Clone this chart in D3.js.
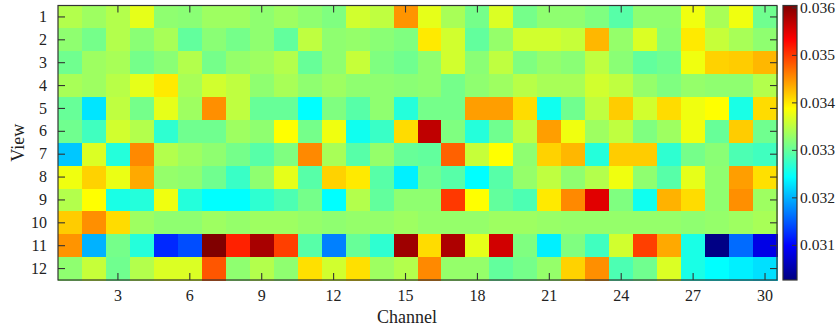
<!DOCTYPE html>
<html><head><meta charset="utf-8">
<script src="https://cdn.jsdelivr.net/npm/d3@7"></script>
<style>body{margin:0;background:#fff}svg text{font-family:"Liberation Serif","Times New Roman",serif;fill:#222}</style>
</head><body><svg id="c" width="837" height="328"></svg>
<script>
const channels = [1,2,3,4,5,6,7,8,9,10,11,12,13,14,15,16,17,18,19,20,21,22,23,24,25,26,27,28,29,30];
const views = [1,2,3,4,5,6,7,8,9,10,11,12];
const xTickValues = [3,6,9,12,15,18,21,24,27,30];
const colorTicks = [0.031,0.032,0.033,0.034,0.035,0.036];
const colorDomain = [0.03026, 0.03604];
const values = [
 [0.03344,0.03332,0.03344,0.03373,0.03324,0.03321,0.03332,0.03332,0.03324,0.03332,0.03324,0.03315,0.03361,0.03351,0.03448,0.03373,0.03338,0.03309,0.03367,0.03309,0.03324,0.03324,0.03315,0.03292,0.03324,0.03324,0.03379,0.03338,0.03379,0.03306],
 [0.03324,0.03309,0.03344,0.03321,0.03338,0.03298,0.03321,0.03309,0.03324,0.03298,0.03351,0.03324,0.03327,0.03321,0.03315,0.03399,0.03361,0.03298,0.03327,0.03361,0.03361,0.03355,0.03428,0.03327,0.03367,0.03321,0.03399,0.03355,0.03338,0.03324],
 [0.03306,0.03332,0.03338,0.03309,0.03321,0.03344,0.03309,0.03327,0.03332,0.03344,0.03301,0.03324,0.03355,0.03315,0.03306,0.03324,0.03361,0.03321,0.03351,0.03315,0.03327,0.03321,0.03351,0.03321,0.03298,0.03306,0.03379,0.03413,0.03416,0.03428],
 [0.03338,0.03332,0.03347,0.03373,0.03399,0.03338,0.03361,0.03351,0.03324,0.03338,0.03324,0.03332,0.03324,0.03324,0.03321,0.03324,0.03309,0.03324,0.03332,0.03347,0.03338,0.03338,0.03361,0.03351,0.03327,0.03315,0.03327,0.03324,0.03324,0.03344],
 [0.03301,0.03228,0.03351,0.03309,0.03373,0.03332,0.03451,0.03351,0.03301,0.03301,0.03243,0.03315,0.03292,0.03324,0.03263,0.03309,0.03309,0.03442,0.03442,0.03407,0.03251,0.03306,0.03351,0.03416,0.03361,0.03407,0.03379,0.03387,0.03257,0.03407],
 [0.03306,0.03279,0.03361,0.03344,0.03269,0.03306,0.03306,0.03332,0.03324,0.03387,0.03309,0.03379,0.03251,0.03275,0.03407,0.03568,0.03315,0.03263,0.03306,0.03351,0.03442,0.03379,0.03332,0.03351,0.03315,0.03332,0.03379,0.03301,0.03416,0.03306],
 [0.03211,0.03367,0.03263,0.03454,0.03344,0.03332,0.03324,0.03309,0.03292,0.03315,0.03454,0.03338,0.03292,0.03327,0.03301,0.03298,0.03477,0.03355,0.03387,0.03324,0.03413,0.03428,0.03263,0.03416,0.03416,0.03269,0.03309,0.03321,0.03286,0.03279],
 [0.03379,0.03413,0.03376,0.03436,0.03327,0.03324,0.03306,0.03275,0.03324,0.03373,0.03292,0.03413,0.03399,0.03292,0.03234,0.03306,0.03292,0.03243,0.03292,0.03327,0.03351,0.03324,0.03344,0.03379,0.03324,0.03292,0.03373,0.03324,0.03442,0.03405],
 [0.03344,0.03387,0.03257,0.03263,0.03379,0.03263,0.03243,0.03243,0.03269,0.03286,0.03309,0.03243,0.03344,0.03298,0.03324,0.03324,0.03500,0.03387,0.03298,0.03286,0.03399,0.03454,0.03549,0.03315,0.03251,0.03431,0.03407,0.03324,0.03451,0.03332],
 [0.03416,0.03451,0.03407,0.03332,0.03324,0.03324,0.03332,0.03327,0.03332,0.03332,0.03327,0.03324,0.03327,0.03327,0.03332,0.03327,0.03327,0.03327,0.03332,0.03332,0.03329,0.03327,0.03327,0.03327,0.03327,0.03327,0.03324,0.03327,0.03332,0.03338],
 [0.03448,0.03199,0.03309,0.03263,0.03121,0.03142,0.03604,0.03513,0.03581,0.03496,0.03292,0.03171,0.03301,0.03269,0.03587,0.03407,0.03578,0.03373,0.03558,0.03315,0.03234,0.03315,0.03279,0.03361,0.03496,0.03436,0.03257,0.03029,0.03159,0.03084],
 [0.03324,0.03355,0.03306,0.03344,0.03367,0.03367,0.03483,0.03324,0.03344,0.03324,0.03405,0.03361,0.03405,0.03332,0.03344,0.03454,0.03327,0.03327,0.03298,0.03309,0.03327,0.03413,0.03451,0.03286,0.03306,0.03367,0.03257,0.03243,0.03234,0.03225]
];

function jet(t){
  t = Math.max(0, Math.min(1, t));
  const c = v => Math.max(0, Math.min(1, v));
  return d3.rgb(255*c(1.5-Math.abs(4*t-3)), 255*c(1.5-Math.abs(4*t-2)), 255*c(1.5-Math.abs(4*t-1))).formatHex();
}

const svg = d3.select("#c");
const L = 58, R = 777, T = 5.5, B = 280;
const x = d3.scaleBand().domain(channels).range([L, R]);
const y = d3.scaleBand().domain(views).range([T, B]);
const color = d3.scaleSequential(jet).domain(colorDomain);

const cells = [];
values.forEach((row, i) => row.forEach((v, j) => cells.push({view: views[i], ch: channels[j], v})));
svg.append("g").selectAll("rect").data(cells).join("rect")
  .attr("x", d => x(d.ch)).attr("y", d => y(d.view))
  .attr("width", x.bandwidth() + 0.6).attr("height", y.bandwidth() + 0.6)
  .attr("fill", d => color(d.v)).attr("shape-rendering", "crispEdges");

const tickLen = 7;
const gL = svg.append("g").attr("transform", `translate(${L},0)`)
  .call(d3.axisLeft(y).tickSize(-tickLen).tickPadding(11));
const gR = svg.append("g").attr("transform", `translate(${R},0)`)
  .call(d3.axisRight(y).tickSize(-tickLen).tickFormat(""));
const gB = svg.append("g").attr("transform", `translate(0,${B})`)
  .call(d3.axisBottom(x).tickValues(xTickValues).tickSize(-tickLen).tickPadding(10));
const gT = svg.append("g").attr("transform", `translate(0,${T})`)
  .call(d3.axisTop(x).tickValues(xTickValues).tickSize(-tickLen).tickFormat(""));
[gL, gR, gB, gT].forEach(g => {
  g.select(".domain").remove();
  g.selectAll(".tick line").attr("stroke", "#333").attr("stroke-width", 1.1);
  g.selectAll(".tick text").attr("font-size", 16).attr("font-family", "Liberation Serif, serif").attr("fill", "#222");
});
svg.append("rect").attr("x", L).attr("y", T).attr("width", R - L).attr("height", B - T)
  .attr("fill", "none").attr("stroke", "#333").attr("stroke-width", 1.2);

svg.append("text").attr("x", 407).attr("y", 323).attr("text-anchor", "middle")
  .attr("font-size", 18).text("Channel");
svg.append("text").attr("transform", `translate(24,${(T + B) / 2}) rotate(-90)`)
  .attr("text-anchor", "middle").attr("font-size", 18).text("View");

// colorbar
const cbL = 783, cbR = 797;
const cy = d3.scaleLinear().domain(colorDomain).range([B, T]);
const defs = svg.append("defs");
const grad = defs.append("linearGradient").attr("id", "cb").attr("x1", 0).attr("y1", 1).attr("x2", 0).attr("y2", 0);
d3.range(0, 1.0001, 1/64).forEach(t => grad.append("stop").attr("offset", t).attr("stop-color", jet(t)));
svg.append("rect").attr("x", cbL).attr("y", T).attr("width", cbR - cbL).attr("height", B - T).attr("fill", "url(#cb)");
const gC = svg.append("g").attr("transform", `translate(${cbR},0)`)
  .call(d3.axisRight(cy).tickValues(colorTicks).tickSize(-5).tickPadding(3).tickFormat(d3.format(".3f")));
gC.select(".domain").remove();
gC.selectAll(".tick line").attr("stroke", "#333");
gC.selectAll(".tick text").attr("font-size", 15.5).attr("fill", "#222");
svg.append("rect").attr("x", cbL).attr("y", T).attr("width", cbR - cbL).attr("height", B - T)
  .attr("fill", "none").attr("stroke", "#333").attr("stroke-width", 1.2);
</script></body></html>
